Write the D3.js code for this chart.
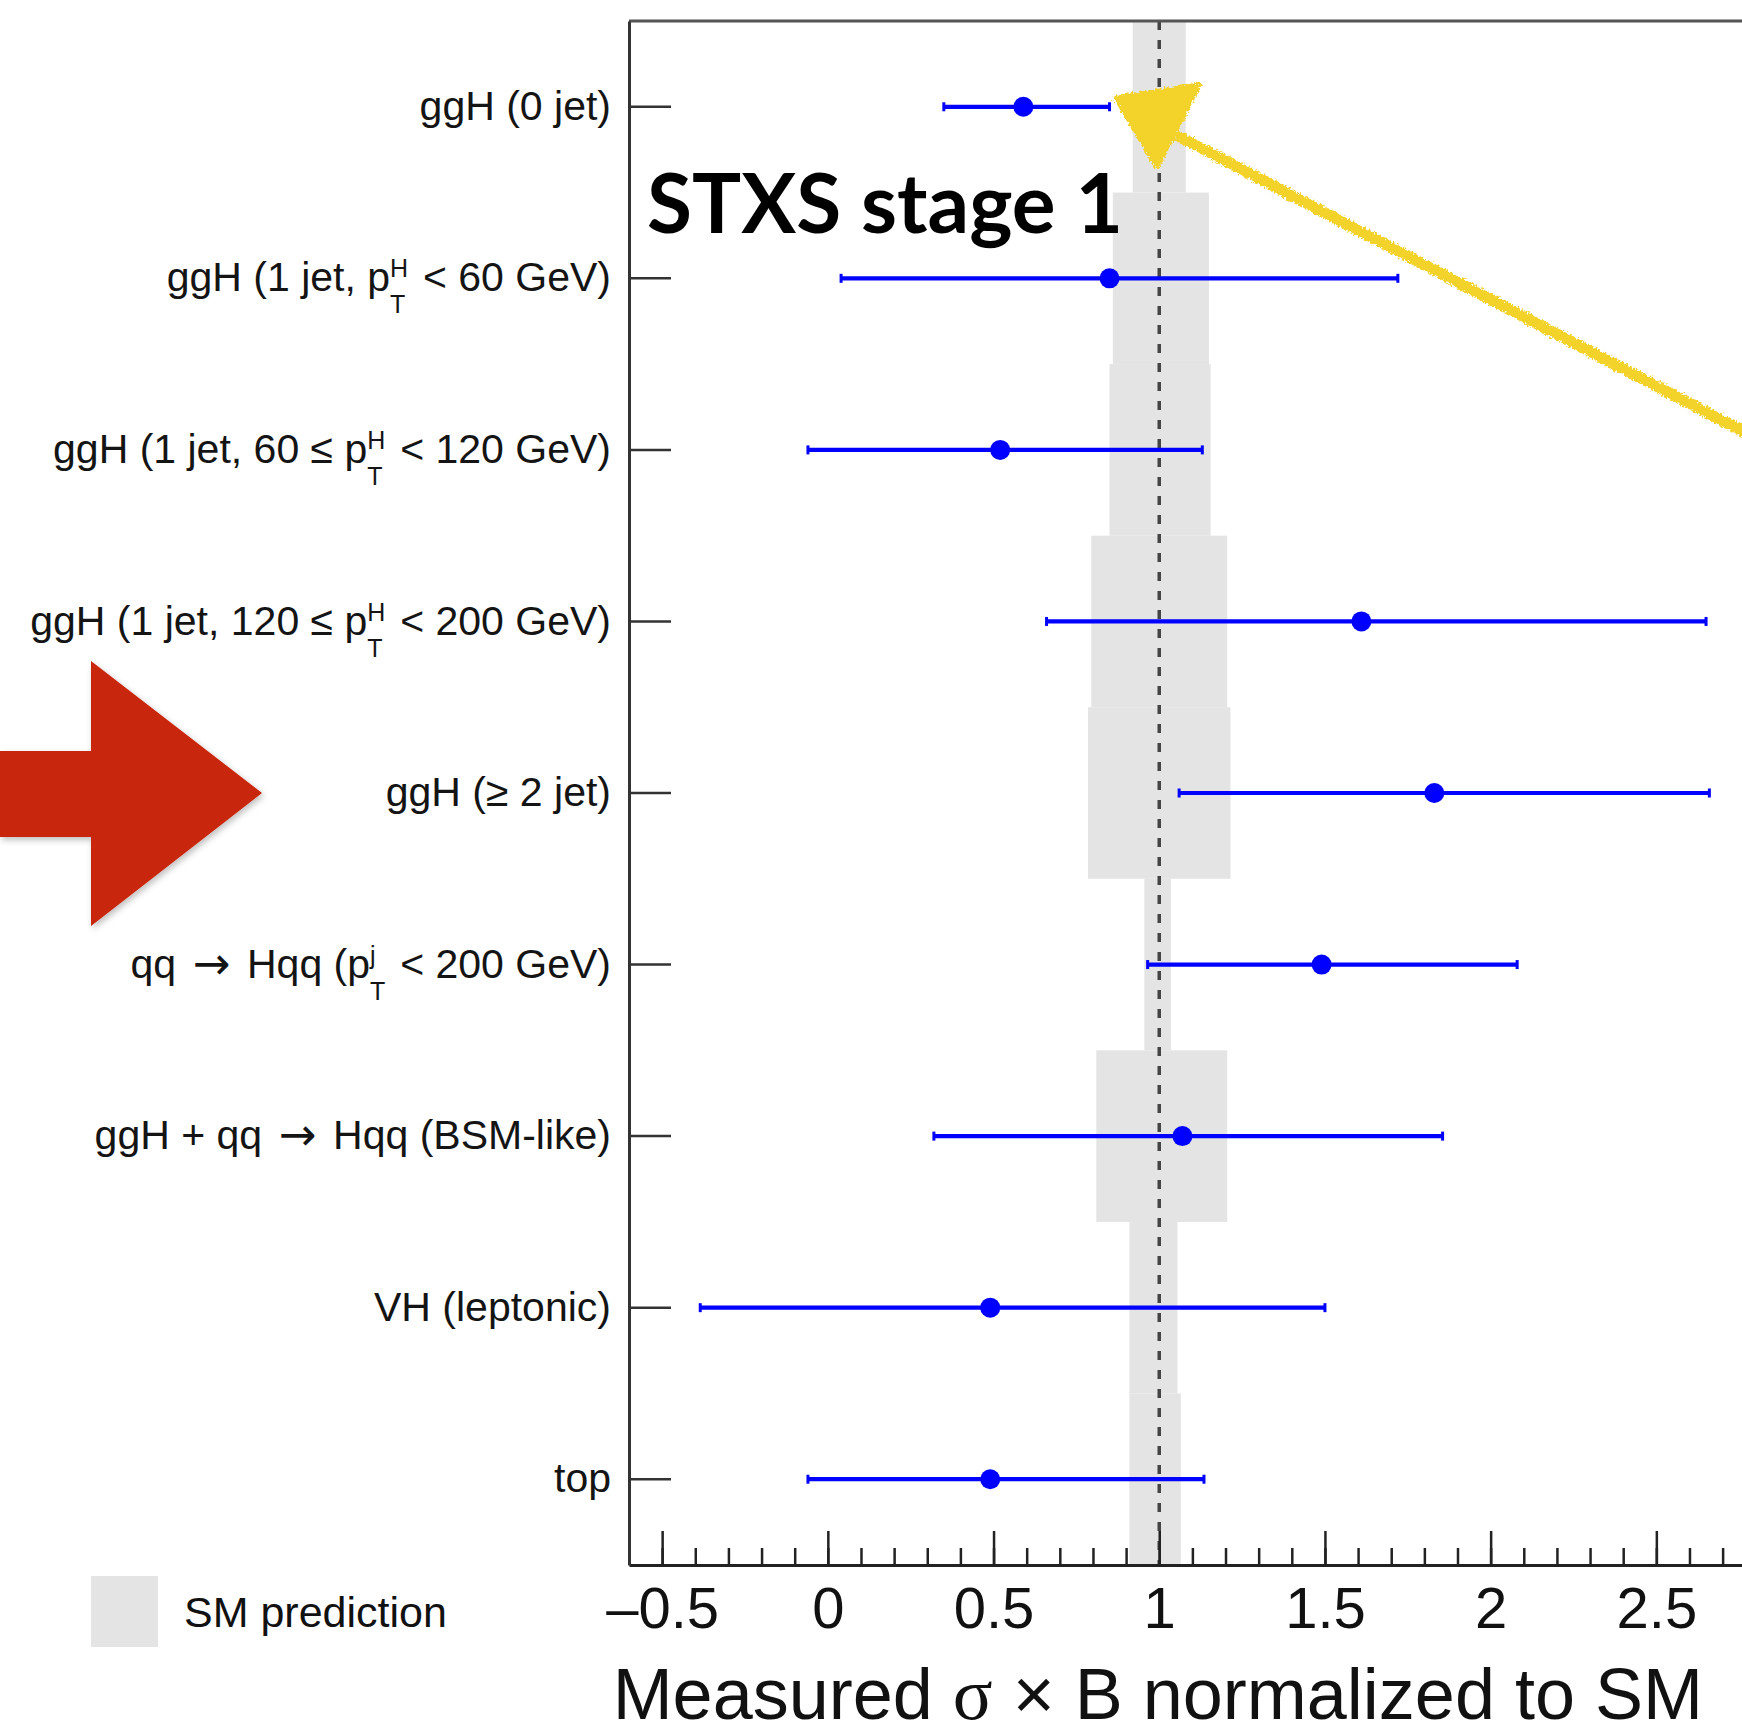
<!DOCTYPE html>
<html>
<head>
<meta charset="utf-8">
<script src="https://cdn.jsdelivr.net/npm/d3@7"></script>
<style>
  html, body { margin: 0; padding: 0; background: #fff; }
  svg { display: block; }
</style>
</head>
<body>
<svg id="chart" width="1742" height="1734"></svg>
<script>
// Production-mode categories; {sup|sub} marks a stacked super/subscript pair
const categories = [
  "ggH (0 jet)",
  "ggH (1 jet, p{H|T} < 60 GeV)",
  "ggH (1 jet, 60 \u2264 p{H|T} < 120 GeV)",
  "ggH (1 jet, 120 \u2264 p{H|T} < 200 GeV)",
  "ggH (\u2265 2 jet)",
  "qq \u2192 Hqq (p{j|T} < 200 GeV)",
  "ggH + qq \u2192 Hqq (BSM-like)",
  "VH (leptonic)",
  "top"
];

// Measured cross section x branching ratio, normalised to the SM
const measured = [0.59, 0.85, 0.52, 1.61, 1.83, 1.49, 1.07, 0.49, 0.49];
const errLow   = [0.35, 0.04, -0.06, 0.66, 1.06, 0.965, 0.32, -0.385, -0.06];
const errHigh  = [0.85, 1.72, 1.13, 2.65, 2.66, 2.08, 1.855, 1.50, 1.135];

// SM prediction uncertainty band per category
const smLow  = [0.92, 0.86, 0.85, 0.795, 0.785, 0.955, 0.81, 0.91, 0.91];
const smHigh = [1.08, 1.15, 1.155, 1.205, 1.215, 1.035, 1.205, 1.055, 1.065];
const smReference = 1;

// x-axis ticks
const majorTicks = [-0.5, 0, 0.5, 1, 1.5, 2, 2.5];
const tickLabels = ["\u20130.5", "0", "0.5", "1", "1.5", "2", "2.5"];
const minorStep = 0.1;

const axisTitle = ["Measured ", "\u03c3", " \u00d7 B normalized to SM"];
const legendLabel = "SM prediction";
const headline = "STXS stage 1";

const svg = d3.select("#chart");
const W = 1742, H = 1734;
const plot = { left: 629, top: 21, bottom: 1565 };
const unit = 331.4;
const sans = "'Liberation Sans', Arial, sans-serif";

const x = d3.scaleLinear()
  .domain([-0.6, 3.0])
  .range([plot.left, plot.left + 3.6 * unit]);

const y = d3.scaleBand()
  .domain(d3.range(categories.length))
  .range([plot.top, plot.bottom])
  .padding(0);

const defs = svg.append("defs");
const crayon = defs.append("filter").attr("id", "crayon")
  .attr("x", "-10%").attr("y", "-10%").attr("width", "120%").attr("height", "120%");
crayon.append("feTurbulence").attr("type", "fractalNoise")
  .attr("baseFrequency", "0.45").attr("numOctaves", 2).attr("seed", 3).attr("result", "noise");
crayon.append("feDisplacementMap").attr("in", "SourceGraphic").attr("in2", "noise")
  .attr("scale", 7).attr("xChannelSelector", "R").attr("yChannelSelector", "G");

const shadow = defs.append("filter").attr("id", "shadow")
  .attr("x", "-10%").attr("y", "-10%").attr("width", "130%").attr("height", "130%");
shadow.append("feDropShadow").attr("dx", 2).attr("dy", 3).attr("stdDeviation", 3)
  .attr("flood-color", "#000").attr("flood-opacity", 0.25);

// SM prediction bands
svg.append("g").selectAll("rect")
  .data(d3.range(categories.length))
  .join("rect")
  .attr("x", i => x(smLow[i]))
  .attr("width", i => x(smHigh[i]) - x(smLow[i]))
  .attr("y", i => y(i))
  .attr("height", y.bandwidth())
  .attr("fill", "#e4e4e4");

// SM reference line
svg.append("line")
  .attr("x1", x(smReference)).attr("x2", x(smReference))
  .attr("y1", plot.top).attr("y2", plot.bottom)
  .attr("stroke", "#444").attr("stroke-width", 3.5)
  .attr("stroke-dasharray", "9,10");

// Measurements with error bars
const blue = "#0000ff";
const points = svg.append("g").selectAll("g")
  .data(d3.range(categories.length))
  .join("g")
  .attr("transform", i => `translate(0,${y(i) + y.bandwidth() / 2})`);

points.append("line")
  .attr("x1", i => x(errLow[i])).attr("x2", i => x(errHigh[i]))
  .attr("y1", 0).attr("y2", 0)
  .attr("stroke", blue).attr("stroke-width", 4.2);

points.selectAll("line.cap")
  .data(i => [errLow[i], errHigh[i]])
  .join("line").attr("class", "cap")
  .attr("x1", d => x(d)).attr("x2", d => x(d))
  .attr("y1", -4.5).attr("y2", 4.5)
  .attr("stroke", blue).attr("stroke-width", 3);

points.append("circle")
  .attr("cx", i => x(measured[i]))
  .attr("cy", 0)
  .attr("r", 10)
  .attr("fill", blue);

// x axis: minor ticks, then labelled major ticks
const minorValues = d3.range(-0.6, 3.0001, minorStep).map(v => Math.round(v * 10) / 10);
const xMinor = svg.append("g")
  .attr("transform", `translate(0,${plot.bottom})`)
  .call(d3.axisBottom(x).tickValues(minorValues).tickSizeInner(-17).tickSizeOuter(0).tickFormat(""));
xMinor.select(".domain").remove();
xMinor.selectAll("line").attr("stroke", "#222").attr("stroke-width", 2.5);

const xAxis = svg.append("g")
  .attr("transform", `translate(0,${plot.bottom})`)
  .call(d3.axisBottom(x)
    .tickValues(majorTicks)
    .tickSizeInner(-34).tickSizeOuter(0).tickPadding(22)
    .tickFormat((d, i) => tickLabels[i]));
xAxis.select(".domain").attr("stroke", "#222").attr("stroke-width", 3);
xAxis.selectAll("line").attr("stroke", "#222").attr("stroke-width", 2.5);
xAxis.selectAll("text")
  .attr("fill", "#111")
  .style("font-family", sans)
  .style("font-size", "58px");

// top frame edge
svg.append("line")
  .attr("x1", plot.left).attr("x2", W)
  .attr("y1", plot.top).attr("y2", plot.top)
  .attr("stroke", "#555").attr("stroke-width", 3);

// y axis with category labels
const labelFont = 41, scriptFont = 25;
const yAxis = svg.append("g")
  .attr("transform", `translate(${plot.left},0)`)
  .call(d3.axisLeft(y).tickSizeInner(-42).tickSizeOuter(0).tickPadding(18).tickFormat(""));
yAxis.select(".domain").attr("stroke", "#333").attr("stroke-width", 3);
yAxis.selectAll("line").attr("stroke", "#333").attr("stroke-width", 2.5);

const measureText = (str, size) => {
  const t = svg.append("text")
    .style("font-family", sans)
    .style("font-size", size + "px").text(str);
  const w = t.node().getComputedTextLength();
  t.remove();
  return w;
};

yAxis.selectAll(".tick text")
  .text(null)
  .attr("fill", "#141414")
  .style("font-family", sans)
  .style("font-size", labelFont + "px")
  .each(function (i) {
    const t = d3.select(this);
    const parts = categories[i].split(/(\{[^}]*\}|\u2192)/).filter(s => s.length);
    parts.forEach(p => {
      if (p.startsWith("{")) {
        const [sup, sub] = p.slice(1, -1).split("|");
        const wSup = measureText(sup, scriptFont);
        const wSub = measureText(sub, scriptFont);
        t.append("tspan").style("font-size", scriptFont + "px")
          .attr("dy", -14).text(sup);
        t.append("tspan").style("font-size", scriptFont + "px")
          .attr("dx", -wSup).attr("dy", 36).text(sub);
        t.append("tspan").style("font-size", labelFont + "px")
          .attr("dx", Math.max(wSup - wSub, 0)).attr("dy", -22).text("\u200a");
      } else if (p === "\u2192") {
        t.append("tspan").style("font-family", "'DejaVu Sans', sans-serif")
          .style("font-size", "45px").attr("dx", 5).attr("dy", 1).text(p);
        t.append("tspan").attr("dx", 2).attr("dy", -1).text("\u200a");
      } else {
        t.append("tspan").text(p);
      }
    });
  });

// axis title
svg.append("text")
  .attr("x", 1703).attr("y", 1719)
  .attr("text-anchor", "end")
  .attr("fill", "#111")
  .style("font-family", sans)
  .style("font-size", "72px")
  .selectAll("tspan")
  .data(axisTitle)
  .join("tspan")
  .style("font-family", (d, i) => i === 1 ? "'Liberation Serif', 'DejaVu Serif', serif" : null)
  .style("font-size", (d, i) => i === 1 ? "74px" : null)
  .text(d => d);

// legend
svg.append("rect")
  .attr("x", 91).attr("y", 1576).attr("width", 67).attr("height", 71)
  .attr("fill", "#e4e4e4");
svg.append("text")
  .attr("x", 184).attr("y", 1627)
  .attr("fill", "#111")
  .style("font-family", sans)
  .style("font-size", "43px")
  .text(legendLabel);

// headline
svg.append("text")
  .attr("x", 647).attr("y", 233)
  .attr("fill", "#000")
  .style("font-family", "Lato, 'Open Sans', sans-serif")
  .style("font-weight", 700)
  .style("font-size", "82px")
  .text(headline);

// red pointer towards the >= 2 jet category
const rowMid = y(4) + y.bandwidth() / 2;
const redArrow = [[0, -42], [91, -42], [91, -132], [262, 0], [91, 133], [91, 44], [0, 44]];
svg.append("path")
  .attr("d", d3.line()(redArrow.map(([px, py]) => [px, rowMid + py])) + "Z")
  .attr("fill", "#c8250a")
  .attr("filter", "url(#shadow)");

// yellow hand-drawn pointer towards the SM line in the 0-jet row
const yellow = "#f3d22b";
const ya = svg.append("g").attr("filter", "url(#crayon)");
ya.append("path")
  .attr("d", "M1180,137 L1790,456")
  .attr("stroke", yellow).attr("stroke-width", 11)
  .attr("stroke-linecap", "round").attr("fill", "none");
ya.append("path")
  .attr("d", "M1116,98 L1199,85 L1157,167 Z")
  .attr("fill", yellow).attr("stroke", yellow)
  .attr("stroke-width", 5).attr("stroke-linejoin", "round");
</script>
</body>
</html>
